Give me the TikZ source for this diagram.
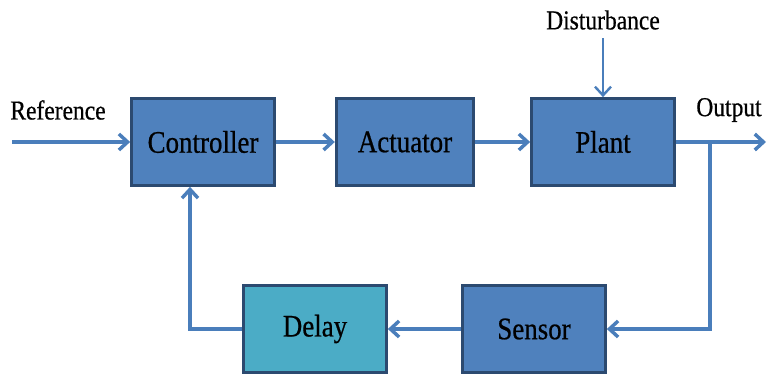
\documentclass[tikz,border=0pt]{standalone}
\usepackage{fontspec}
\setmainfont[FakeStretch=0.86, FakeBold=0.6]{Liberation Serif}
\usetikzlibrary{arrows.meta}

\definecolor{bloccoblu}{HTML}{4F81BD}
\definecolor{bloccociano}{HTML}{4BACC6}
\definecolor{bordoblu}{HTML}{2C4A70}
\definecolor{linea}{HTML}{4A7EBB}

\begin{document}
\begin{tikzpicture}[x=0.75pt, y=-0.75pt,
  >={Straight Barb[length=6.5pt,width=12pt]},
  blocco/.style={draw=bordoblu, line width=2.3pt, fill=bloccoblu,
    minimum width=107pt, minimum height=65pt,
    font=\fontsize{23.5}{25}\selectfont},
  freccia/.style={->, draw=linea, line width=2.6pt},
  etichetta/.style={font=\fontsize{20.5}{22}\selectfont}]

\useasboundingbox (0,0) rectangle (769,377);

% Blocchi
\node[blocco] (ctrl) at (203,142) {Controller};
\node[blocco, minimum width=103pt] (act) at (405,142) {Actuator};
\node[blocco] (plant) at (603,142) {Plant};
\node[blocco, fill=bloccociano] (delay) at (315,329) {Delay};
\node[blocco] (sensor) at (534,329) {Sensor};

% Etichette
\node[etichetta] (ref) at (58,110) {Reference};
\node[etichetta] (out) at (729,110) {Output};
\node[etichetta] (dist) at (603,20) {Disturbance};

% Punti liberi
\coordinate (ingresso) at (12,142);
\coordinate (uscita) at (766,142);
\coordinate (presa) at (710,142);
\coordinate (ritorno) at (190,329);

% Catena diretta
\draw[freccia] (ingresso) -- (ctrl);
\draw[freccia] (ctrl) -- (act);
\draw[freccia] (act) -- (plant);
\draw[freccia] (plant) -- (uscita);
\draw[freccia, line width=1.8pt, shorten <=3pt] (dist) -- (dist |- plant.north);

% Retroazione
\draw[freccia] (presa) |- (sensor);
\draw[freccia] (sensor) -- (delay);
\draw[freccia] (delay) -- (ritorno) -- (ritorno |- ctrl.south);

\end{tikzpicture}
\end{document}
